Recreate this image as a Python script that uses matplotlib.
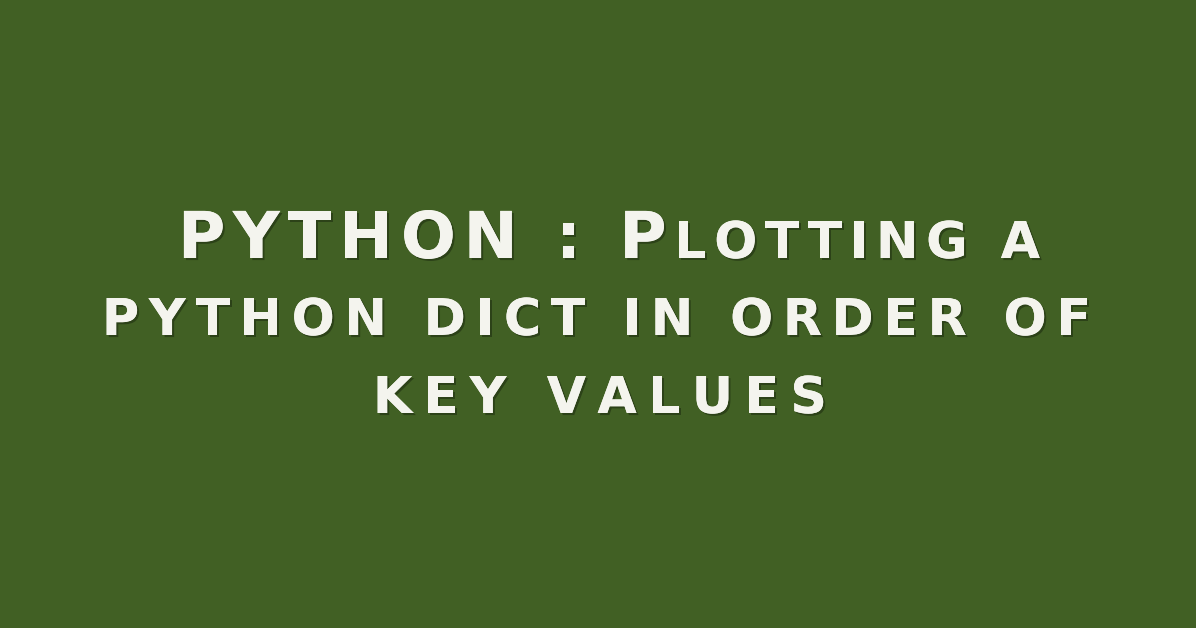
import matplotlib
matplotlib.use("Agg")
import matplotlib.pyplot as plt
import matplotlib.patheffects as pe

W, H = 1196, 628
BG = "#416024"
FG = "#f4f4ee"

# title lines: list of (text, size-class) segments (small caps rendering)
line1 = [("PYTHON : P", "big"), ("LOTTING A", "small")]
line2 = [("PYTHON DICT IN ORDER OF", "small")]
line3 = [("KEY VALUES", "small")]
lines = [line1, line2, line3]

# layout: baseline (px from top) and left/right pixel extents of each line
baselines = [258, 335, 413]
spans = [(178, 1040), (102, 1091), (373, 827)]

sizes = {"big": 46.5, "small": 36.5}

fig = plt.figure(figsize=(W / 100, H / 100), dpi=100)
fig.patch.set_facecolor(BG)
ax = fig.add_axes([0, 0, 1, 1])
ax.set_xlim(0, W)
ax.set_ylim(H, 0)
ax.axis("off")
ax.set_facecolor(BG)

renderer = fig.canvas.get_renderer()
shadow = [pe.withSimplePatchShadow(offset=(1.5, -1.5), shadow_rgbFace="#1e2e10", alpha=0.6), pe.Normal()]

probe = ax.text(0, 0, "", fontweight="bold", family="DejaVu Sans")


def advance(s, fs):
    probe.set_fontsize(fs)
    probe.set_text(s + "|")
    w1 = probe.get_window_extent(renderer).width
    probe.set_text("|")
    w0 = probe.get_window_extent(renderer).width
    return w1 - w0


for segs, yb, (xl, xr) in zip(lines, baselines, spans):
    chars = []
    for s, cls in segs:
        fs = sizes[cls]
        for ch in s:
            chars.append((ch, fs, advance(ch, fs)))
    natural = sum(c[2] for c in chars)
    track = ((xr - xl) - natural) / (len(chars) - 1)
    x = xl
    for ch, fs, w in chars:
        if ch != " ":
            ax.text(x, yb, ch, fontsize=fs, fontweight="bold",
                    family="DejaVu Sans", color=FG, ha="left", va="baseline",
                    path_effects=shadow)
        x += w + track

probe.remove()
fig.savefig("out.png", dpi=100, facecolor=BG)
